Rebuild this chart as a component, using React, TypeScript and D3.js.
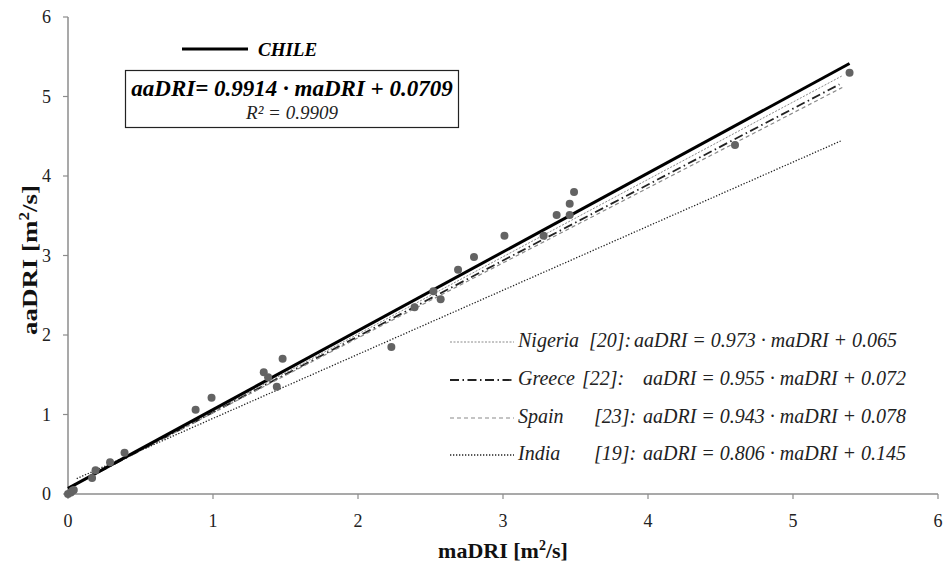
import React from "react";
import * as d3 from "d3";

const maDRI = [0.0, 0.02, 0.03, 0.04, 0.166, 0.19, 0.29, 0.39, 0.88, 0.99, 1.35, 1.38, 1.44, 1.48, 2.23, 2.39, 2.52, 2.57, 2.69, 2.8, 3.01, 3.28, 3.37, 3.46, 3.46, 3.49, 4.6, 5.39];
const aaDRI = [0.0, 0.02, 0.04, 0.05, 0.2, 0.3, 0.4, 0.52, 1.06, 1.21, 1.53, 1.47, 1.35, 1.7, 1.85, 2.35, 2.55, 2.45, 2.82, 2.98, 3.25, 3.25, 3.51, 3.65, 3.51, 3.8, 4.39, 5.3];

const xTicks = [0, 1, 2, 3, 4, 5, 6];
const yTicks = [0, 1, 2, 3, 4, 5, 6];

const chileFit = { slope: 0.9914, intercept: 0.0709, x0: 0, x1: 5.39 };

const refNames = ["Nigeria", "Greece", "Spain", "India"];
const refCites = ["[20]:", "[22]:", "[23]:", "[19]:"];
const refSlopes = [0.973, 0.955, 0.943, 0.806];
const refIntercepts = [0.065, 0.072, 0.078, 0.145];
const refStart = [0.0, 0.0, 0.0, 0.06];
const refEnd = [5.34, 5.32, 5.34, 5.34];

const styles = [
  { stroke: "#8a8a8a", width: 1, dash: "2,1.5" },
  { stroke: "#222", width: 1.8, dash: "9,3.5,1.5,3.5" },
  { stroke: "#8a8a8a", width: 1.2, dash: "4,3" },
  { stroke: "#222", width: 1.3, dash: "1.3,1.7" },
];

export default function App() {
  const x = d3.scaleLinear().domain([0, 6]).range([68, 938]);
  const y = d3.scaleLinear().domain([0, 6]).range([494, 17]);
  const line = d3.line<[number, number]>().x(d => x(d[0])).y(d => y(d[1]));
  const font = "'Liberation Serif', 'Times New Roman', serif";
  const axisColor = "#8c8c8c";

  const legendRows = [342, 380, 418, 455];
  const citeX = [589, 582, 594, 594];
  const eqX = [634, 643, 643, 643];
  const eqTexts = refSlopes.map((s, i) => `aaDRI = ${s.toFixed(3)} · maDRI + ${refIntercepts[i].toFixed(3)}`);

  return (
    <svg width={946} height={567} style={{ position: "absolute", left: 0, top: 0, background: "#fff", fontFamily: font }}>
      <rect width={946} height={567} fill="#fff" />
      {/* axes */}
      <line x1={x(0)} x2={x(0)} y1={y(6)} y2={y(0)} stroke={axisColor} strokeWidth={1.5} />
      <line x1={x(0)} x2={x(6)} y1={y(0)} y2={y(0)} stroke={axisColor} strokeWidth={1.5} />
      {yTicks.map(t => (
        <g key={"y" + t}>
          <line x1={x(0) - 5} x2={x(0)} y1={y(t)} y2={y(t)} stroke={axisColor} strokeWidth={1.2} />
          <text x={x(0) - 17} y={y(t)} dy="0.35em" textAnchor="end" fontSize={18} fill="#222">{t}</text>
        </g>
      ))}
      {xTicks.map(t => (
        <g key={"x" + t}>
          <line x1={x(t)} x2={x(t)} y1={y(0)} y2={y(0) + 5} stroke={axisColor} strokeWidth={1.2} />
          <text x={x(t)} y={y(0) + 27} dy="0.35em" textAnchor="middle" fontSize={18} fill="#222">{t}</text>
        </g>
      ))}
      <text x={503} y={558} textAnchor="middle" fontSize={22} fontWeight="bold" fill="#111">
        maDRI [m<tspan dy={-8} fontSize={14}>2</tspan><tspan dy={8}>/s]</tspan>
      </text>
      <text transform={`translate(37,335) rotate(-90)`} x={0} y={0} textLength={150} lengthAdjust="spacingAndGlyphs" fontSize={22} fontWeight="bold" fill="#111">
        aaDRI [m<tspan dy={-8} fontSize={14}>2</tspan><tspan dy={8}>/s]</tspan>
      </text>

      {/* reference lines */}
      {refSlopes.map((s, i) => {
        const pts: [number, number][] = [refStart[i], refEnd[i]].map(v => [v, s * v + refIntercepts[i]]);
        return (
          <path key={"r" + i} d={line(pts) || ""} fill="none" stroke={styles[i].stroke}
            strokeWidth={styles[i].width} strokeDasharray={styles[i].dash} />
        );
      })}
      {/* Chile fit */}
      <path d={line([[chileFit.x0, chileFit.slope * chileFit.x0 + chileFit.intercept], [chileFit.x1, chileFit.slope * chileFit.x1 + chileFit.intercept]]) || ""}
        fill="none" stroke="#000" strokeWidth={3} />

      {/* data points */}
      {maDRI.map((v, i) => (
        <circle key={"p" + i} cx={x(v)} cy={y(aaDRI[i])} r={4} fill="#636363" />
      ))}

      {/* top legend */}
      <line x1={182} x2={248} y1={49} y2={49} stroke="#000" strokeWidth={3} />
      <text x={258} y={56} fontSize={19} fontWeight="bold" fontStyle="italic" fill="#000">CHILE</text>
      <rect x={125.5} y={70.5} width={333} height={57} fill="#fff" stroke="#222" strokeWidth={1.2} />
      <text x={292} y={96} textAnchor="middle" fontSize={23} fontWeight="bold" fontStyle="italic" fill="#000">
        aaDRI= 0.9914 · maDRI + 0.0709
      </text>
      <text x={292} y={119} textAnchor="middle" fontSize={19} fontStyle="italic" fill="#222">R² = 0.9909</text>

      {/* bottom-right legend */}
      {refNames.map((n, i) => (
        <g key={"l" + i}>
          <line x1={450} x2={514} y1={legendRows[i]} y2={legendRows[i]} stroke={styles[i].stroke}
            strokeWidth={styles[i].width} strokeDasharray={styles[i].dash} />
          <text x={518} y={legendRows[i] + 5} fontSize={20} fontStyle="italic" fill="#222">{n}</text>
          <text x={citeX[i]} y={legendRows[i] + 5} fontSize={20} fontStyle="italic" fill="#222">{refCites[i]}</text>
          <text x={eqX[i]} y={legendRows[i] + 5} fontSize={20} fontStyle="italic" fill="#222">{eqTexts[i]}</text>
        </g>
      ))}
    </svg>
  );
}
